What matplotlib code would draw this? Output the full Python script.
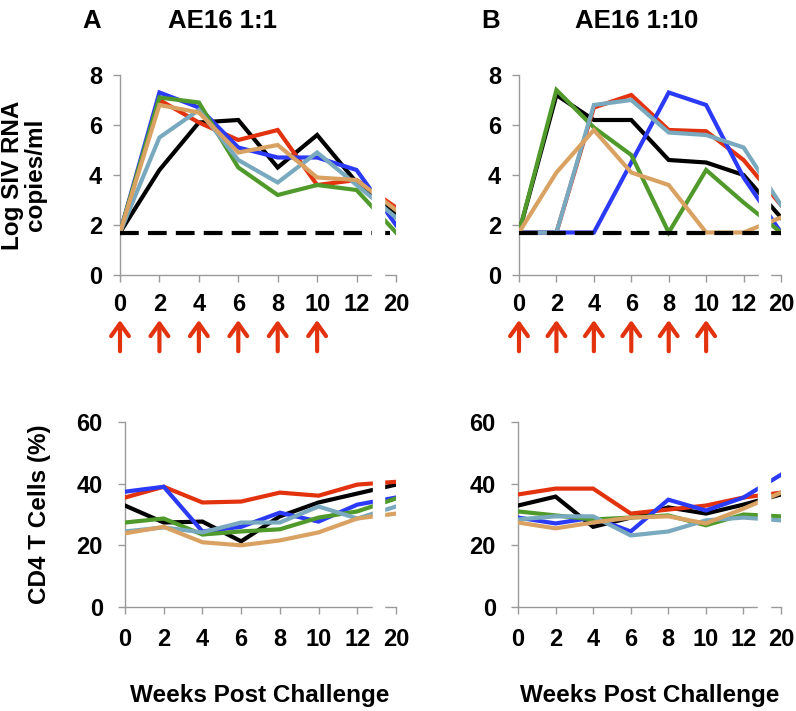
import matplotlib
matplotlib.use('Agg')
import matplotlib.pyplot as plt

# weeks on the x axis (axis is broken between 12 and 20)
weeks = [0, 2, 4, 6, 8, 10, 12, 20]
challenge_weeks = [0, 2, 4, 6, 8, 10]
detection_limit = 1.7

# Panel A (AE16 1:1) - log SIV RNA
a_vl_black = [1.7, 4.2, 6.1, 6.2, 4.3, 5.6, 3.7, 2.4]
a_vl_red = [1.7, 7.0, 6.1, 5.4, 5.8, 3.6, 3.8, 2.7]
a_vl_blue = [1.7, 7.3, 6.7, 5.1, 4.7, 4.7, 4.2, 2.0]
a_vl_green = [1.7, 7.1, 6.9, 4.3, 3.2, 3.6, 3.4, 1.7]
a_vl_ltblue = [1.7, 5.5, 6.6, 4.6, 3.7, 4.9, 3.6, 2.3]
a_vl_tan = [1.7, 6.8, 6.5, 4.9, 5.2, 3.9, 3.8, 2.6]

# Panel B (AE16 1:10) - log SIV RNA
b_vl_black = [1.7, 7.2, 6.2, 6.2, 4.6, 4.5, 4.0, 2.3]
b_vl_red = [1.7, 1.7, 6.7, 7.2, 5.8, 5.75, 4.6, 2.8]
b_vl_blue = [1.7, 1.7, 1.7, 4.5, 7.3, 6.8, 3.9, 1.7]
b_vl_green = [1.7, 7.4, 5.9, 4.8, 1.7, 4.2, 2.9, 1.7]
b_vl_ltblue = [1.7, 1.7, 6.8, 7.0, 5.7, 5.6, 5.1, 2.8]
b_vl_tan = [1.7, 4.1, 5.8, 4.1, 3.6, 1.7, 1.7, 2.3]

# Panel A - CD4 T cells (%)
a_cd4_black = [32.9, 27.4, 27.7, 21.3, 29.4, 33.9, 36.8, 39.7]
a_cd4_red = [35.5, 39.0, 33.9, 34.2, 37.1, 36.1, 39.7, 40.6]
a_cd4_blue = [37.4, 39.0, 24.5, 26.0, 30.6, 27.7, 33.2, 35.5]
a_cd4_green = [27.4, 28.7, 23.5, 24.5, 25.2, 29.0, 31.0, 35.2]
a_cd4_ltblue = [24.5, 25.8, 24.2, 27.4, 27.4, 32.6, 28.7, 32.6]
a_cd4_tan = [23.9, 26.0, 21.0, 20.0, 21.6, 24.2, 28.7, 30.3]

# Panel B - CD4 T cells (%)
b_cd4_black = [32.9, 35.8, 26.0, 29.0, 32.3, 30.3, 33.2, 36.5]
b_cd4_red = [36.5, 38.4, 38.4, 30.3, 31.6, 32.9, 35.5, 37.1]
b_cd4_blue = [29.0, 27.1, 29.0, 24.5, 34.8, 31.3, 35.5, 42.9]
b_cd4_green = [31.0, 29.7, 28.4, 29.0, 29.7, 26.5, 30.0, 29.4]
b_cd4_ltblue = [28.4, 29.4, 29.4, 23.2, 24.5, 28.1, 29.0, 28.1]
b_cd4_tan = [27.4, 25.5, 27.4, 29.0, 29.4, 27.1, 31.9, 37.1]

colors = ["#000000", "#E2320E", "#2B3AF7", "#4F9A2B", "#79A9BE", "#D9A262"]
arrow_color = "#E2320E"

plt.rcParams['font.family'] = ['Liberation Sans', 'DejaVu Sans']
plt.rcParams['font.weight'] = 'bold'

fig = plt.figure(figsize=(7.96, 7.11), dpi=100)
W, H = 796.0, 711.0


def make_axes(left, right, top, bottom):
    return fig.add_axes([left/W, 1-bottom/H, (right-left)/W, (bottom-top)/H])


def setup(ax, yticks, ymax, xpad, ypad):
    ax.set_xlim(0, len(weeks)-1)
    ax.set_ylim(0, ymax)
    ax.set_xticks(range(len(weeks)))
    ax.set_xticklabels([str(w) for w in weeks])
    ax.set_yticks(yticks)
    for s in ['top', 'right']:
        ax.spines[s].set_visible(False)
    for s in ['left', 'bottom']:
        ax.spines[s].set_color('#9a9a9a')
        ax.spines[s].set_linewidth(1.0)
    ax.tick_params(colors='#9a9a9a', labelcolor='black', length=5, width=1, labelsize=17)
    ax.tick_params(axis='x', pad=xpad)
    ax.tick_params(axis='y', pad=ypad)
    # axis break between 12 and 20
    ax.axvspan(6.4, 6.7, ymin=-0.04, ymax=1.02, color='white', zorder=10, clip_on=False)


def draw(ax, series):
    x = range(len(weeks))
    for vals, c in zip(series, colors):
        ax.plot(x, vals, color=c, lw=3, solid_joinstyle='miter', zorder=3)


ax1 = make_axes(120, 396, 75, 275)
ax2 = make_axes(519, 781, 75, 275)
ax3 = make_axes(125, 396, 422, 607)
ax4 = make_axes(518, 781, 422, 607)

for ax, series in [(ax1, [a_vl_black, a_vl_red, a_vl_blue, a_vl_green, a_vl_ltblue, a_vl_tan]),
                   (ax2, [b_vl_black, b_vl_red, b_vl_blue, b_vl_green, b_vl_ltblue, b_vl_tan])]:
    draw(ax, series)
    ax.axhline(detection_limit, color='black', lw=3, dashes=(4.5, 2.2), zorder=4)
    setup(ax, [0, 2, 4, 6, 8], 8, 8, 8)
    # challenge arrows
    for w in challenge_weeks:
        i = weeks.index(w)
        ax.annotate('', xy=(i, -1.8), xytext=(i, -3.05), annotation_clip=False,
                    arrowprops=dict(arrowstyle='->,head_length=0.45,head_width=0.32',
                                    color=arrow_color, lw=3, mutation_scale=20,
                                    shrinkA=0, shrinkB=0))

for ax, series in [(ax3, [a_cd4_black, a_cd4_red, a_cd4_blue, a_cd4_green, a_cd4_ltblue, a_cd4_tan]),
                   (ax4, [b_cd4_black, b_cd4_red, b_cd4_blue, b_cd4_green, b_cd4_ltblue, b_cd4_tan])]:
    draw(ax, series)
    setup(ax, [0, 20, 40, 60], 60, 10, 11)

# titles and labels
fs = 17.5
tfs = 18.5
fig.text(92/W, 1-21/H, 'A', ha='center', va='center', fontsize=tfs)
fig.text(168/W, 1-21/H, 'AE16 1:1', ha='left', va='center', fontsize=tfs)
fig.text(491/W, 1-21/H, 'B', ha='center', va='center', fontsize=tfs)
fig.text(575/W, 1-21/H, 'AE16 1:10', ha='left', va='center', fontsize=tfs)

fig.text(24/W, 1-175/H, 'Log SIV RNA\ncopies/ml', rotation=90, ha='center', va='center',
         multialignment='center', linespacing=1.0, fontsize=fs)
fig.text(40/W, 1-514/H, 'CD4 T Cells (%)', rotation=90, ha='center', va='center', fontsize=fs)

fig.text(260/W, 1-702/H, 'Weeks Post Challenge', ha='center', va='baseline', fontsize=fs)
fig.text(650/W, 1-702/H, 'Weeks Post Challenge', ha='center', va='baseline', fontsize=fs)

fig.savefig('out.png', dpi=100)
